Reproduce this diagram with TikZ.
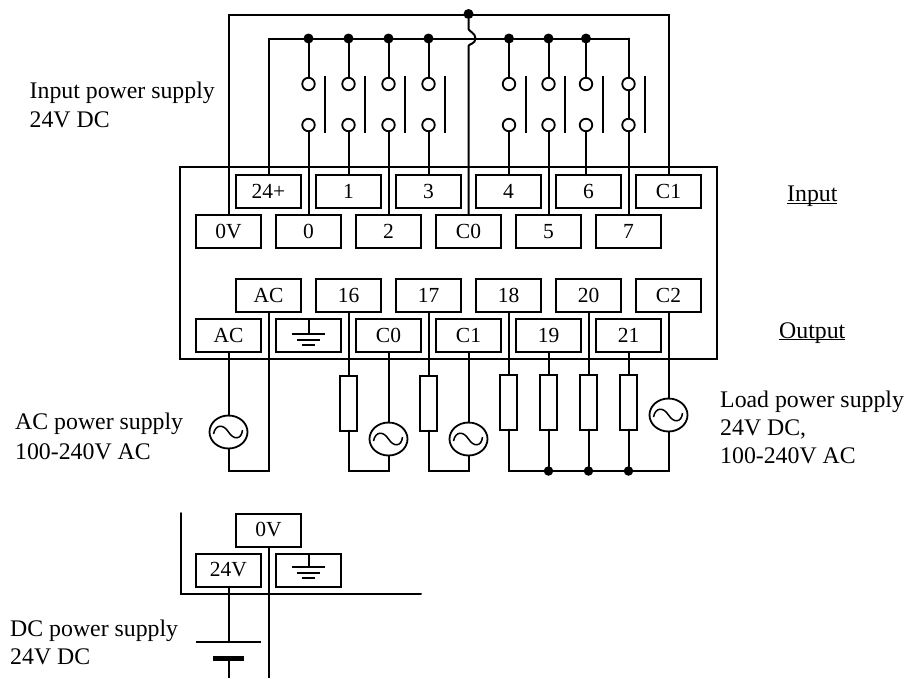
\documentclass[tikz,border=0pt]{standalone}
\usepackage{fontspec}
\setmainfont{Liberation Serif}
\usetikzlibrary{shapes.geometric}
\newcommand\myul[1]{\setbox0=\hbox{#1}\rlap{\rule[-2.4pt]{\wd0}{1.3pt}}\box0}
\tikzset{
  wire/.style={line width=2pt,line cap=round,line join=miter},
  term/.style={draw,line width=2pt,fill=white,minimum width=65pt,minimum height=33pt,inner sep=0pt,outer sep=0pt,font=\fontsize{21.5}{23}\selectfont},
  res/.style={draw,line width=2pt,fill=white,minimum width=17pt,minimum height=55pt,inner sep=0pt,outer sep=0pt},
  dot/.style={circle,fill=black,minimum size=10pt,inner sep=0pt,outer sep=0pt},
  contact/.style={circle,draw,line width=1.8pt,fill=white,minimum size=12.5pt,inner sep=0pt,outer sep=0pt},
  src/.style={ellipse,draw,line width=1.8pt,fill=white,minimum width=38pt,minimum height=33pt,inner sep=0pt,outer sep=0pt,
    path picture={\draw[line width=1.5pt,shift={(path picture bounding box.center)}] (-15,2) .. controls (-13,-8) and (-5,-8) .. (0,0) .. controls (5,8) and (13,8) .. (14,-2);}},
  lab/.style={anchor=base west,inner sep=0pt,font=\fontsize{23.8}{26}\selectfont,align=left},
}
\begin{document}
\begin{tikzpicture}[x=1pt,y=-1pt]
\useasboundingbox (0,0) rectangle (910,678);
% housings
\node[draw,line width=2pt,minimum width=537pt,minimum height=192pt,inner sep=0pt,outer sep=0pt] (plc) at (448.5,263) {};
\coordinate (topA) at (228,15);
\coordinate (topB) at (268,38.5);
\coordinate (topAend) at (668.5,15);
\coordinate (topBend) at (628.5,38.5);
% terminals: input
\node[term] (i24) at (268.5,191.5) {24+};
\node[term] (i1) at (348.5,191.5) {1};
\node[term] (i3) at (428.5,191.5) {3};
\node[term] (i4) at (508.5,191.5) {4};
\node[term] (i6) at (588.5,191.5) {6};
\node[term] (iC1) at (668.5,191.5) {C1};
\node[term] (i0V) at (228.5,231.5) {0V};
\node[term] (i0) at (308.5,231.5) {0};
\node[term] (i2) at (388.5,231.5) {2};
\node[term] (iC0) at (468.5,231.5) {C0};
\node[term] (i5) at (548.5,231.5) {5};
\node[term] (i7) at (628.5,231.5) {7};
% terminals: output
\node[term] (oAC) at (268.5,295.5) {AC};
\node[term] (o16) at (348.5,295.5) {16};
\node[term] (o17) at (428.5,295.5) {17};
\node[term] (o18) at (508.5,295.5) {18};
\node[term] (o20) at (588.5,295.5) {20};
\node[term] (oC2) at (668.5,295.5) {C2};
\node[term] (oACb) at (228.5,335.5) {AC};
\node[term] (oG) at (308.5,335.5) {};
\node[term] (oC0) at (388.5,335.5) {C0};
\node[term] (oC1) at (468.5,335.5) {C1};
\node[term] (o19) at (548.5,335.5) {19};
\node[term] (o21) at (628.5,335.5) {21};
% top wires
\draw[wire] (i0V.north) -- (i0V.north |- topA) -- (topAend) -- (iC1.north);
\draw[wire] (i24.north) -- (i24.north |- topB) -- (topBend) -- (i7.north);
\node[dot] (dT) at (468.5,14) {};
\draw[wire] (dT) -- (468.5,29) .. controls (468.5,31) and (475.5,33) .. (475.5,38.5) .. controls (475.5,44) and (468.5,44) .. (468.5,46) -- (iC0.north);
% switches
\foreach \n/\x in {a/308.5,b/348.5,c/388.5,d/428.5,e/509,f/548.5,g/586,h/628.5}{
  \coordinate (b\n) at (\x,38.5);
  \node[contact] (u\n) at (\x,84) {};
  \node[contact] (v\n) at (\x,125) {};
  \draw[wire] (b\n) -- (u\n);
}
\draw[wire] (va) -- (i0.north);
\draw[wire] (vb) -- (i1.north);
\draw[wire] (vc) -- (i2.north);
\draw[wire] (vd) -- (i3.north);
\draw[wire] (ve) -- (ve |- i4.north);
\draw[wire] (vf) -- (i5.north);
\draw[wire] (vg) -- (vg |- i6.north);
\draw[wire] (vh) -- (i7.north);
\foreach \n in {a,b,c,d,e,f,g}{\node[dot] at (b\n) {};}
\foreach \x in {324.7,364.7,404.7,444.7,525.7,564.7,602.7,644.7}{
  \draw[wire,line width=1.6pt,line cap=butt] (\x,76) -- (\x,133);
}
% ground in terminal
\draw[wire,line cap=butt] (oG.north) -- (308.5,334);
\draw[wire,line cap=butt] (292,334) -- (325,334) (297,339.5) -- (320,339.5) (302,345) -- (315,345);
% AC supply
\coordinate (botL) at (268.5,471);
\node[src] (sAC) at (228.5,432) {};
\draw[wire] (oACb.south) -- (sAC);
\draw[wire] (sAC) -- (sAC |- botL) -- (botL) -- (oAC.south);
% output loads
\node[res] (r16) at (348.5,403) {};
\node[res] (r17) at (428.5,403) {};
\node[src] (s0) at (388.5,439) {};
\node[src] (s1) at (468.5,439) {};
\coordinate (b0) at (388.5,471);
\coordinate (b1) at (468.5,471);
\draw[wire] (o16.south) -- (r16.north);
\draw[wire] (r16.south) -- (r16.south |- b0) -- (b0) -- (s0.south);
\draw[wire] (s0.north) -- (oC0.south);
\draw[wire] (o17.south) -- (r17.north);
\draw[wire] (r17.south) -- (r17.south |- b1) -- (b1) -- (s1.south);
\draw[wire] (s1.north) -- (oC1.south);
\node[res] (r18) at (508.5,402) {};
\node[res] (r19) at (548.5,402) {};
\node[res] (r20) at (588.5,402) {};
\node[res] (r21) at (628.5,402) {};
\node[src] (s2) at (668.5,415) {};
\draw[wire] (o18.south) -- (r18.north);
\draw[wire] (o19.south) -- (r19.north);
\draw[wire] (o20.south) -- (r20.north);
\draw[wire] (o21.south) -- (r21.north);
\draw[wire] (oC2.south) -- (s2.north);
\coordinate (bR) at (668.5,471);
\draw[wire] (r18.south) -- (r18.south |- bR) -- (bR) -- (s2.south);
\node[dot,minimum size=9.5pt] (d19) at (548.5,471) {};
\node[dot,minimum size=9.5pt] (d20) at (588.5,471) {};
\node[dot,minimum size=9.5pt] (d21) at (628.5,471) {};
\draw[wire] (r19.south) -- (d19);
\draw[wire] (r20.south) -- (d20);
\draw[wire] (r21.south) -- (d21);
% DC section
\coordinate (hL) at (180.5,594);
\coordinate (hR) at (421,594);
\coordinate (hT) at (180.5,513);
\draw[wire] (hT) -- (hL) -- (hR);
\node[term] (d0V) at (268.5,530) {0V};
\node[term] (d24) at (228.5,570) {24V};
\node[term] (dG) at (308.5,570) {};
\draw[wire,line cap=butt] (dG.north) -- (308.5,567);
\draw[wire,line cap=butt] (292,567) -- (325,567) (297,572.5) -- (320,572.5) (302,578) -- (315,578);
\coordinate (pl) at (196,642);
\coordinate (pr) at (261,642);
\coordinate (pc) at (228.5,642);
\coordinate (qc) at (228.5,658);
\coordinate (ql) at (213,658);
\coordinate (qr) at (244,658);
\coordinate (e1) at (228.5,678);
\coordinate (e2) at (268.5,678);
\draw[wire] (d24.south) -- (pc);
\draw[wire,line cap=butt] (pl) -- (pr);
\draw[line width=5pt] (ql) -- (qr);
\draw[wire,line cap=butt] (qc) -- (e1);
\draw[wire,line cap=butt] (d0V.south) -- (e2);
% labels
\node[lab] (t1) at (29.5,98) {Input power supply};
\node[lab] (t2) at (29.5,127) {24V DC};
\node[lab] (t3) at (787,201.5) {\myul{Input}};
\node[lab] (t4) at (779,338) {\myul{Output}};
\node[lab] (t5) at (15,429) {AC power supply};
\node[lab] (t6) at (15,459) {100-240V AC};
\node[lab] (t7) at (720,407) {Load power supply};
\node[lab] (t8) at (720,435) {24V DC,};
\node[lab] (t9) at (720,463) {100-240V AC};
\node[lab] (t10) at (10,636) {DC power supply};
\node[lab] (t11) at (10,664) {24V DC};
\end{tikzpicture}
\end{document}
